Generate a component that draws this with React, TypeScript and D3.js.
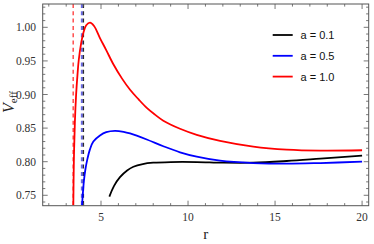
import React from 'react';
import * as d3 from 'd3';

// values (r, V_eff)
const rBlack = [5.48, 5.75, 6.09, 6.5, 6.86, 7.4, 8.0, 9.0, 10.5, 12.0, 13.75, 15.67, 17.6, 20];
const vBlack = [0.748, 0.764, 0.777, 0.787, 0.7925, 0.7965, 0.7985, 0.7995, 0.7995, 0.7985, 0.7985, 0.801, 0.8045, 0.809];

const rBlue = [3.91, 3.95, 4.02, 4.1, 4.21, 4.36, 4.56, 4.94, 5.3, 5.8, 6.3, 6.67, 7.63, 8.58, 9.54, 10.5, 11.84, 13.75, 15.67, 17.6, 20];
const vBlue = [0.735, 0.75, 0.772, 0.788, 0.803, 0.818, 0.83, 0.839, 0.844, 0.846, 0.8445, 0.842, 0.833, 0.823, 0.814, 0.8075, 0.8015, 0.798, 0.797, 0.798, 0.8];

const rRed = [3.41, 3.44, 3.5, 3.57, 3.65, 3.72, 3.85, 4.0, 4.15, 4.37, 4.6, 4.94, 5.3, 5.71, 6.2, 6.67, 7.15, 7.63, 8.1, 8.58, 9.54, 10.5, 11.84, 13.75, 15.67, 17.6, 20];
const vRed = [0.735, 0.8, 0.86, 0.9, 0.93, 0.951, 0.975, 0.993, 1.003, 1.007, 1.002, 0.984, 0.966, 0.945, 0.924, 0.907, 0.893, 0.88, 0.87, 0.861, 0.849, 0.84, 0.831, 0.8225, 0.818, 0.8165, 0.817];

// horizons (dashed verticals)
const horizonR = [3.40, 3.90, 3.99];
const horizonColor = ['#ff2020', '#6a6ae6', '#2a2a2a'];
const horizonWidth = [1.2, 2, 1.3];

const seriesLabels = ['a = 0.1', 'a = 0.5', 'a = 1.0'];
const seriesColors = ['#000000', '#0000ff', '#ff0000'];

const xTicks = [5, 10, 15, 20];
const yTicks = [0.75, 0.8, 0.85, 0.9, 0.95, 1.0];

const serif = "'Liberation Serif', 'Times New Roman', 'DejaVu Serif', serif";
const sans = "'Liberation Sans', Arial, sans-serif";

export default function App() {
  const width = 374, height = 244;
  const left = 42.7, right = 368.7, top = 4, bottom = 205.7;

  const x = d3.scaleLinear().domain([1.65, 20.38]).range([left, right]);
  const y = d3.scaleLinear().domain([0.7345, 1.0347]).range([bottom, top]);

  const line = d3.line<[number, number]>()
    .x(d => x(d[0]))
    .y(d => y(d[1]))
    .curve(d3.curveCatmullRom.alpha(0.5));

  const series = [
    rBlack.map((r, i) => [r, vBlack[i]] as [number, number]),
    rBlue.map((r, i) => [r, vBlue[i]] as [number, number]),
    rRed.map((r, i) => [r, vRed[i]] as [number, number]),
  ];

  const xMinor = d3.range(2, 21, 1).filter(v => v % 5 !== 0);
  const yMinor = d3.range(74, 104, 1).map(v => v / 100).filter(v => Math.round(v * 100) % 5 !== 0);
  const frame = '#555';
  const major = 5, minor = 2.6;

  return (
    <svg width={width} height={height} style={{ position: 'absolute', left: 0, top: 0, background: '#fff' }}>
      <defs>
        <clipPath id="plot">
          <rect x={left} y={top} width={right - left} height={bottom - top} />
        </clipPath>
      </defs>

      <g clipPath="url(#plot)">
        {horizonR.map((r, i) => (
          <line key={'h' + i} x1={x(r)} x2={x(r)} y1={top} y2={bottom}
            stroke={horizonColor[i]} strokeWidth={horizonWidth[i]} strokeDasharray="4,3.3" />
        ))}
        {series.map((s, i) => (
          <path key={'s' + i} d={line(s) || ''} fill="none" stroke={seriesColors[i]} strokeWidth={1.8} />
        ))}
      </g>

      {/* ticks */}
      <g stroke={frame} strokeWidth={0.8}>
        {xTicks.map(t => (
          <g key={'xt' + t}>
            <line x1={x(t)} x2={x(t)} y1={bottom} y2={bottom - major} />
            <line x1={x(t)} x2={x(t)} y1={top} y2={top + major} />
          </g>
        ))}
        {xMinor.map(t => (
          <g key={'xm' + t}>
            <line x1={x(t)} x2={x(t)} y1={bottom} y2={bottom - minor} />
            <line x1={x(t)} x2={x(t)} y1={top} y2={top + minor} />
          </g>
        ))}
        {yTicks.map(t => (
          <g key={'yt' + t}>
            <line x1={left} x2={left + major} y1={y(t)} y2={y(t)} />
            <line x1={right} x2={right - major} y1={y(t)} y2={y(t)} />
          </g>
        ))}
        {yMinor.map(t => (
          <g key={'ym' + t}>
            <line x1={left} x2={left + minor} y1={y(t)} y2={y(t)} />
            <line x1={right} x2={right - minor} y1={y(t)} y2={y(t)} />
          </g>
        ))}
      </g>
      <rect x={left} y={top} width={right - left} height={bottom - top} fill="none" stroke={frame} strokeWidth={1} />

      {/* tick labels */}
      <g style={{ fontFamily: serif, fontSize: '11.5px' }} fill="#333">
        {xTicks.map(t => (
          <text key={'xl' + t} x={x(t)} y={221} textAnchor="middle">{t}</text>
        ))}
        {yTicks.map(t => (
          <text key={'yl' + t} x={36} y={y(t) + 4} textAnchor="end">{d3.format('.2f')(t)}</text>
        ))}
      </g>

      {/* axis labels */}
      <text x={(left + right) / 2} y={239} textAnchor="middle" style={{ fontFamily: serif, fontSize: '15px' }} fill="#222">r</text>
      <text transform={`translate(14,${113}) rotate(-90)`} style={{ fontFamily: serif }} fill="#222">
        <tspan style={{ fontStyle: 'italic', fontSize: '16px' }}>V</tspan>
        <tspan style={{ fontSize: '11px' }} dy={3}>eff</tspan>
      </text>

      {/* legend */}
      <g style={{ fontFamily: sans, fontSize: '11px' }} fill="#111">
        {seriesLabels.map((lab, i) => (
          <g key={'lg' + i}>
            <line x1={272.7} x2={292.7} y1={35 + i * 20.8} y2={35 + i * 20.8} stroke={seriesColors[i]} strokeWidth={1.8} />
            <text x={300.5} y={35 + i * 20.8 + 4}>{lab}</text>
          </g>
        ))}
      </g>
    </svg>
  );
}
